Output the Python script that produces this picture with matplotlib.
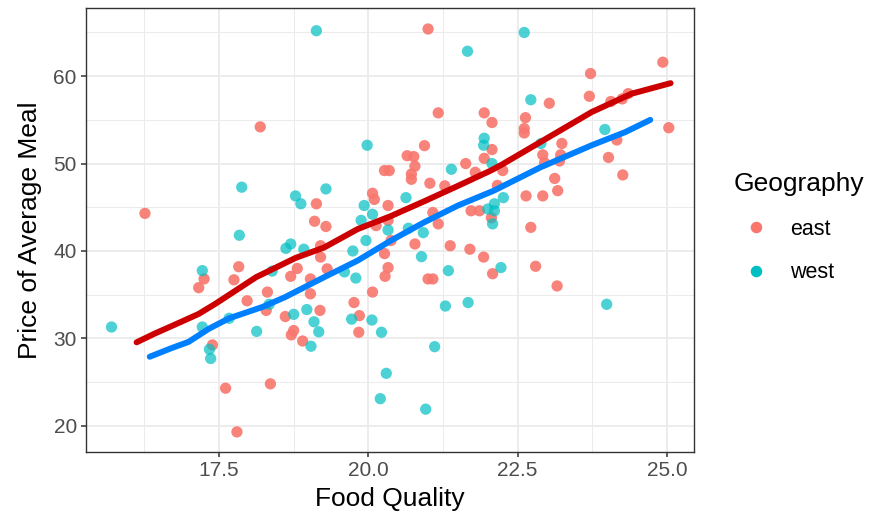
import matplotlib
matplotlib.use("Agg")
import matplotlib.pyplot as plt
from matplotlib.lines import Line2D
from matplotlib.ticker import MultipleLocator

plt.rcParams['font.family'] = ['Liberation Sans', 'DejaVu Sans']

# ---- data ----
east_x = [18.19, 21.0, 21.17, 21.94, 22.07, 20.94, 20.65, 20.76, 22.07, 21.94, 21.63,
          24.93, 23.72, 23.70, 24.35, 24.06, 24.25, 23.03, 25.03, 22.63, 22.61, 22.61,
          23.24, 24.16, 22.92, 23.22, 22.95, 23.2, 24.02, 24.26, 22.25, 22.16, 23.12,
          22.64, 22.92, 23.17, 22.72, 22.08, 22.8, 23.16,
          20.78, 20.72, 20.72, 20.27, 20.35, 21.79, 21.03, 21.28, 19.13, 20.07, 20.10,
          20.33, 19.10, 20.33, 20.13, 19.29, 21.08, 21.17, 19.2, 19.2, 20.38, 20.78,
          21.37, 20.27, 21.70, 21.93, 18.81, 19.31, 20.33, 20.28, 21.0, 21.08, 19.03,
          19.03, 20.07, 19.76, 21.72, 21.86, 22.06,
          19.19, 19.85, 18.75, 18.9, 19.84,
          16.26, 17.83, 17.25, 17.75, 17.16, 18.70, 18.31, 17.97,
          18.29, 18.61, 18.71, 17.39, 17.61, 18.36, 17.8]
east_y = [54.2, 65.4, 55.8, 55.8, 54.7, 52.05, 50.9, 50.8, 51.6, 50.6, 50.0,
          61.6, 60.3, 57.7, 58.0, 57.1, 57.4, 56.9, 54.1, 55.25, 54.0, 53.5,
          52.3, 52.7, 51.0, 51.0, 50.1, 50.3, 50.7, 48.7, 49.2, 47.5, 48.3,
          46.3, 46.3, 46.9, 42.7, 37.4, 38.25, 36.0,
          49.7, 48.8, 48.2, 49.2, 49.2, 49.0, 47.75, 47.45, 45.4, 46.6, 45.9,
          45.2, 43.4, 43.5, 42.9, 42.8, 44.4, 43.1, 40.6, 39.3, 41.2, 40.8,
          40.6, 39.7, 40.2, 39.3, 38.0, 37.95, 38.1, 37.1, 36.8, 36.8, 36.8,
          35.1, 35.3, 34.1, 44.6, 44.6, 43.8,
          33.2, 32.6, 30.9, 29.7, 30.7,
          44.3, 38.2, 36.8, 36.7, 35.8, 37.1, 35.3, 34.3,
          33.2, 32.5, 30.4, 29.25, 24.3, 24.8, 19.3]

west_x = [19.13, 21.66, 19.98, 21.94, 21.93, 22.07, 22.61, 22.72, 23.96, 22.89, 22.26,
          22.11, 22.0, 22.11, 22.08, 22.22, 23.99,
          21.39, 19.29, 18.78, 18.87, 20.63, 19.93, 20.07, 19.88, 20.33, 20.92, 20.67,
          18.7, 18.92, 19.74, 19.96, 20.89, 19.6, 19.79, 21.34, 21.67,
          21.29, 18.75, 18.97, 19.09, 19.17, 19.04, 19.72, 20.06, 20.22, 21.11, 20.30,
          20.2, 20.96,
          17.88, 17.84, 18.62, 17.22, 18.39,
          15.70, 18.34, 17.22, 17.67, 18.13, 17.34, 17.36]
west_y = [65.2, 62.85, 52.1, 52.9, 52.1, 50.0, 65.0, 57.3, 53.9, 52.3, 46.1,
          45.4, 44.8, 44.6, 43.1, 38.1, 33.9,
          49.35, 47.1, 46.3, 45.4, 46.1, 45.2, 44.2, 43.5, 42.4, 42.1, 42.6,
          40.8, 40.2, 40.0, 41.2, 39.35, 37.6, 36.9, 37.75, 34.1,
          33.7, 32.75, 33.3, 31.9, 30.75, 29.1, 32.2, 32.1, 30.7, 29.05, 26.0,
          23.1, 21.9,
          47.3, 41.8, 40.3, 37.75, 37.7,
          31.3, 33.9, 31.3, 32.3, 30.8, 28.75, 27.7]

# smooth lines
east_line_x = [16.12, 16.43, 16.77, 17.16, 17.44, 18.12, 18.78, 19.26, 19.82, 20.38,
               20.94, 21.5, 22.05, 22.24, 22.89, 23.74, 24.41, 25.06]
east_line_y = [29.55, 30.57, 31.6, 32.8, 33.96, 37.0, 39.2, 40.4, 42.5, 44.0,
               45.7, 47.45, 49.2, 49.9, 52.5, 55.9, 58.0, 59.2]
west_line_x = [16.34, 16.71, 16.99, 17.33, 17.67, 18.23, 18.6, 19.26, 19.82, 20.38,
               20.94, 21.5, 22.1, 22.89, 23.74, 24.3, 24.72]
west_line_y = [27.9, 28.9, 29.6, 31.1, 32.3, 33.6, 34.7, 37.0, 38.9, 41.2,
               43.3, 45.2, 46.9, 49.6, 52.1, 53.6, 55.0]

x_ticks = [17.5, 20.0, 22.5, 25.0]
y_ticks = [20, 30, 40, 50, 60]

east_col = '#F8766D'
west_col = '#00BFC4'

fig = plt.figure(figsize=(8.76, 5.18), dpi=100)
ax = fig.add_axes([86/876, 1 - 452/518, (694 - 86)/876, (452 - 8)/518])

ax.set_xlim(15.273, 25.452)
ax.set_ylim(17.0, 67.8)

ax.xaxis.set_minor_locator(MultipleLocator(1.25))
ax.yaxis.set_minor_locator(MultipleLocator(5))
ax.grid(which='major', color='#EBEBEB', lw=1.3, zorder=0)
ax.grid(which='minor', color='#EBEBEB', lw=0.7, zorder=0)
ax.set_axisbelow(True)

ax.scatter(east_x, east_y, s=66, color=east_col, alpha=0.9, edgecolors='none', zorder=2, label='east')
ax.scatter(west_x, west_y, s=66, color=west_col, alpha=0.7, edgecolors='none', zorder=2, label='west')

ax.plot(east_line_x, east_line_y, color='#CC0000', lw=4.3, solid_capstyle='round', solid_joinstyle='round', zorder=3)
ax.plot(west_line_x, west_line_y, color='#0080FF', lw=4.3, solid_capstyle='round', solid_joinstyle='round', zorder=3)

ax.set_xticks(x_ticks)
ax.set_xticklabels([f"{t:.1f}" for t in x_ticks])
ax.set_yticks(y_ticks)
ax.tick_params(which='major', length=3.6, width=1.1, color='#333333', labelcolor='#4D4D4D', labelsize=15, pad=3)
ax.tick_params(which='minor', length=0)
for sp in ax.spines.values():
    sp.set_color('#333333')
    sp.set_linewidth(1)

ax.set_xlabel('Food Quality', fontsize=19, color='black', labelpad=5)
ax.set_ylabel('Price of Average Meal', fontsize=19, color='black', labelpad=8)

handles = [Line2D([], [], marker='o', ls='none', markersize=8.3, color=east_col, markeredgewidth=0),
           Line2D([], [], marker='o', ls='none', markersize=8.3, color=west_col, markeredgewidth=0)]
leg = fig.legend(handles, ['east', 'west'], title='Geography', loc='upper left',
                 bbox_to_anchor=(0.838, 0.668), frameon=False, fontsize=15.5,
                 title_fontsize=19, handletextpad=0.6, labelspacing=1.05,
                 handlelength=2.0, alignment='left', borderaxespad=0, borderpad=0)
leg.get_title().set_color('black')

fig.savefig('out.png', dpi=100)
